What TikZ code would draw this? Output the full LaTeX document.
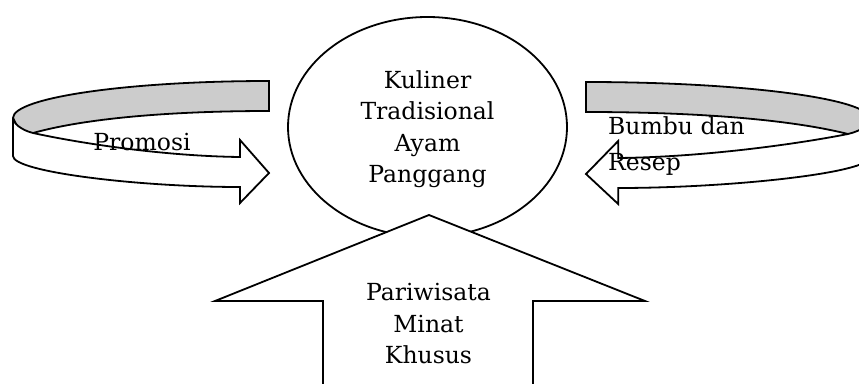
\documentclass[tikz,border=0pt]{standalone}
\usepackage{fontspec}
\setmainfont{DejaVu Serif}
\usetikzlibrary{shapes.geometric}
\definecolor{bandgray}{RGB}{204,204,204}
\begin{document}
\begin{tikzpicture}[x=1pt,y=-1pt,
  shape line/.style={draw=black, line width=1.8pt, line join=miter},
  band back/.style={shape line, fill=bandgray},
  band front/.style={shape line, fill=white},
  label text/.style={inner sep=0pt, font=\fontsize{23.5}{31.5}\selectfont, align=center}]
\useasboundingbox (0,0) rectangle (859,383);
\clip (0,0) rectangle (859,383);
% left curved arrow (Promosi)
\begin{scope}[shift={(269,0)}]
  \path[band back] (0,81) .. controls (-141,81) and (-256,97.6) .. (-256,118)
    -- (-246,138) -- (-236,133) .. controls (-175,116) and (-80,111) .. (0,111) -- cycle;
  \path[band front] (-256,118) -- (-256,156) .. controls (-256,172) and (-130,187) .. (-29,187)
    -- (-29,203) -- (0,173) -- (-29,140) -- (-29,157)
    .. controls (-110,156) and (-195,142) .. (-236,133)
    .. controls (-248,130) and (-256,123) .. (-256,118) -- cycle;
\end{scope}
% right curved arrow (Bumbu dan Resep)
\begin{scope}[shift={(586,1)}, xscale=-1.11]
  \path[band back] (0,81) .. controls (-141,81) and (-256,97.6) .. (-256,118)
    -- (-246,138) -- (-236,133) .. controls (-175,116) and (-80,111) .. (0,111) -- cycle;
  \path[band front] (-256,118) -- (-256,156) .. controls (-256,172) and (-130,187) .. (-29,187)
    -- (-29,203) -- (0,173) -- (-29,140) -- (-29,157)
    .. controls (-110,156) and (-195,142) .. (-236,133)
    .. controls (-248,130) and (-256,123) .. (-256,118) -- cycle;
\end{scope}
% central ellipse
\node[shape line, ellipse, fill=white, minimum width=279pt, minimum height=220pt, inner sep=0pt] (kuliner) at (427.5,127) {};
% up arrow
\path[shape line, fill=white] (429,215) -- (645,301) -- (533,301) -- (533,395)
  -- (323,395) -- (323,301) -- (215,301) -- cycle;
% texts
\node[label text] (kulinertext) at (427.5,129) {Kuliner\\Tradisional\\Ayam\\Panggang};
\node[label text] (pariwisata) at (428.5,324) {Pariwisata\\Minat\\Khusus};
\node[label text, anchor=base] (promosi) at (142,150) {Promosi};
\node[label text, anchor=north west, align=left, font=\fontsize{23.5}{36}\selectfont] (bumbu) at (608,116) {Bumbu dan\\Resep};
\end{tikzpicture}
\end{document}
